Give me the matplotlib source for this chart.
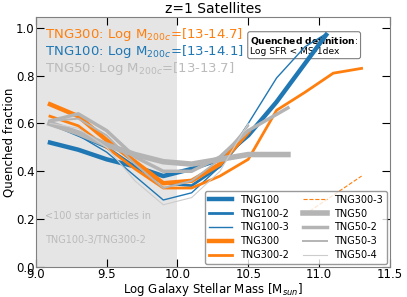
import numpy as np
import matplotlib
matplotlib.use('Agg')
import matplotlib.pyplot as plt

#------ donnees ------
mstar = [9.1, 9.3, 9.5, 9.7, 9.9, 10.1, 10.3, 10.5, 10.7, 10.9, 11.05]
mstar300 = [9.1, 9.3, 9.5, 9.7, 9.9, 10.1, 10.3, 10.5, 10.7, 10.9, 11.1, 11.3]
mstar50 = [9.1, 9.3, 9.5, 9.7, 9.9, 10.1, 10.3, 10.5, 10.78]

tng100   = [0.52, 0.49, 0.45, 0.42, 0.38, 0.41, 0.45, 0.55, 0.69, 0.85, 0.97]
tng100_2 = [0.60, 0.55, 0.50, 0.42, 0.35, 0.34, 0.42, 0.56]
tng100_3 = [0.60, 0.55, 0.48, 0.38, 0.28, 0.31, 0.42, 0.60, 0.79, 0.92, 0.975]

tng300   = [0.68, 0.63, 0.53, 0.44, 0.35, 0.36, 0.43, 0.565]
tng300_2 = [0.63, 0.59, 0.50, 0.41, 0.33, 0.33, 0.38, 0.45, 0.655, 0.73, 0.81, 0.83]
mstar300_3 = [10.9, 11.1, 11.3]
tng300_3 = [0.22, 0.30, 0.38]

tng50   = [0.60, 0.56, 0.51, 0.47, 0.44, 0.43, 0.45, 0.47, 0.47]
tng50_2 = [0.61, 0.64, 0.57, 0.46, 0.40, 0.40, 0.46, 0.57, 0.665]
tng50_3 = [0.61, 0.62, 0.55, 0.43, 0.33, 0.36, 0.45, 0.59]
tng50_4 = [0.60, 0.58, 0.50, 0.36, 0.26, 0.29, 0.40, 0.60]

blue = '#1f77b4'
orange = '#ff7f0e'
grey = '#b4b4b4'

fig = plt.figure(figsize=(4.07, 2.97), dpi=100)
ax = fig.add_axes([0.088, 0.101, 0.87, 0.842])

ax.axvspan(9.0, 10.0, color='#e5e5e5', lw=0, zorder=0)

# texte encadre sous les courbes (les lignes passent par dessus dans la ref)
ax.text(0.605, 0.885, r'$\bf{Quenched\ definition}$:' + '\nLog SFR < MS-1dex', fontsize=6.6,
        transform=ax.transAxes, linespacing=1.05, va='center', zorder=1,
        bbox=dict(boxstyle='round,pad=0.25', fc=(1, 1, 1, 0.85), ec='grey', lw=0.8))

ax.plot(mstar[:len(tng100)], tng100, color=blue, lw=3.2, label='TNG100', zorder=2)
ax.plot(mstar[:len(tng100_2)], tng100_2, color=blue, lw=2.0, label='TNG100-2', zorder=2)
ax.plot(mstar[:len(tng100_3)], tng100_3, color=blue, lw=1.0, label='TNG100-3', zorder=2)
ax.plot(mstar300[:len(tng300)], tng300, color=orange, lw=3.2, label='TNG300', zorder=2)
ax.plot(mstar300[:len(tng300_2)], tng300_2, color=orange, lw=2.0, label='TNG300-2', zorder=2)
ax.plot(mstar300_3, tng300_3, color=orange, lw=0.8, ls='--', label='TNG300-3', zorder=2)
ax.plot(mstar50[:len(tng50)], tng50, color=grey, lw=4.0, label='TNG50', zorder=2)
ax.plot(mstar50[:len(tng50_2)], tng50_2, color=grey, lw=2.5, label='TNG50-2', zorder=2)
ax.plot(mstar50[:len(tng50_3)], tng50_3, color=grey, lw=1.4, label='TNG50-3', zorder=2)
ax.plot(mstar50[:len(tng50_4)], tng50_4, color='#cccccc', lw=0.8, label='TNG50-4', zorder=2)

ax.set_xlim(9.0, 11.5)
ax.set_ylim(0.0, 1.045)
ax.set_xticks([9.0, 9.5, 10.0, 10.5, 11.0, 11.5])
ax.set_yticks([0.0, 0.2, 0.4, 0.6, 0.8, 1.0])
ax.tick_params(direction='in', length=5.5, top=True, right=True, labelsize=8.5, pad=1.0)
for s in ax.spines.values():
    s.set_color('grey')

ax.set_title('z=1 Satellites', fontsize=10, pad=3)
ax.set_xlabel('Log Galaxy Stellar Mass [M$_{sun}$]', fontsize=8.5, labelpad=0)
ax.set_ylabel('Quenched fraction', fontsize=8.5, labelpad=0)

ax.text(0.025, 0.928, 'TNG300: Log M$_{200c}$=[13-14.7]', color=orange, fontsize=9.5,
        va='center', transform=ax.transAxes)
ax.text(0.025, 0.86, 'TNG100: Log M$_{200c}$=[13-14.1]', color=blue, fontsize=9.5,
        va='center', transform=ax.transAxes)
ax.text(0.025, 0.792, 'TNG50: Log M$_{200c}$=[13-13.7]', color='#bbbbbb', fontsize=9.5,
        va='center', transform=ax.transAxes)

ax.text(0.025, 0.204, '<100 star particles in', color='#bbbbbb', fontsize=7,
        va='center', transform=ax.transAxes)
ax.text(0.025, 0.108, 'TNG100-3/TNG300-2', color='#bbbbbb', fontsize=7,
        va='center', transform=ax.transAxes)

leg = ax.legend(ncol=2, loc='lower right', fontsize=7, frameon=True, handlelength=2.4,
                columnspacing=1.5, labelspacing=0.4, borderaxespad=0.3)
leg.get_frame().set_edgecolor('grey')

fig.savefig('out.png', dpi=100)
